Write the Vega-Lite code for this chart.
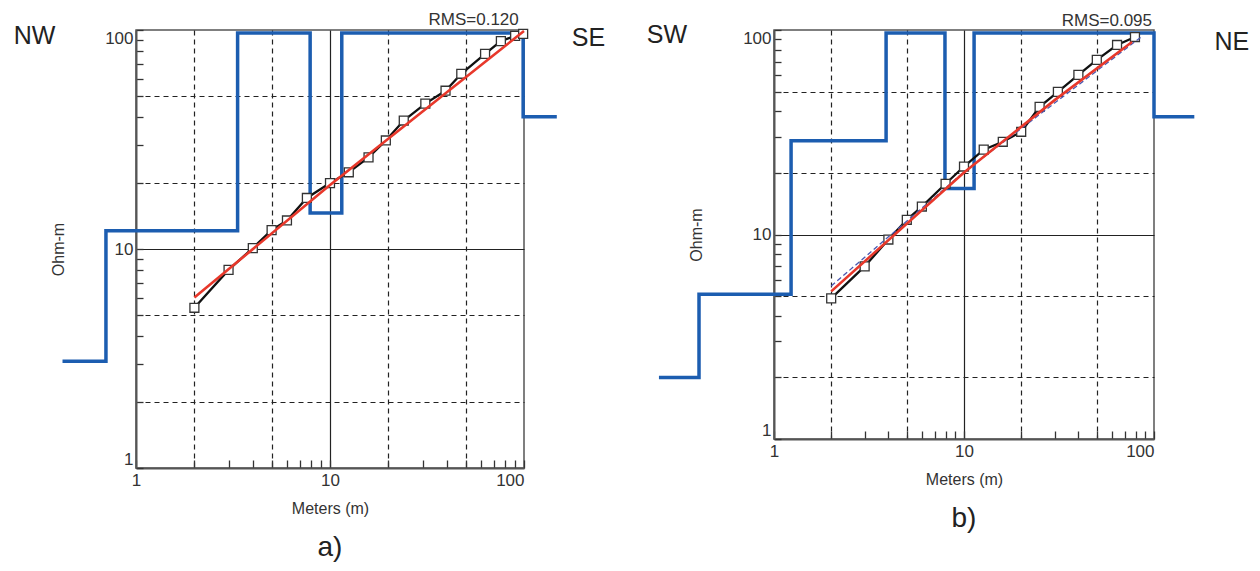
{
  "$schema": "https://vega.github.io/schema/vega-lite/v6.json",
  "background": "white",
  "autosize": {"type": "pad"},
  "padding": {"left": 12, "top": 10, "right": 5, "bottom": 5},
  "config": {
    "font": "Liberation Sans",
    "view": {"stroke": "#555", "strokeWidth": 1.5},
    "axis": {
      "domainColor": "#555",
      "domainWidth": 2,
      "tickColor": "#333",
      "tickWidth": 1.3,
      "grid": true,
      "gridColor": "#222",
      "gridWidth": 1.2,
      "labelFontSize": 17,
      "labelColor": "#333",
      "labelOverlap": false,
      "titleFontSize": 16,
      "titleFontWeight": "normal",
      "titleColor": "#333"
    }
  },
  "datasets": {
    "modelA": [
      {"x": 0.418, "y": 3.07}, {"x": 0.70, "y": 12.1}, {"x": 3.34, "y": 97}, {"x": 7.9, "y": 14.6},
      {"x": 11.5, "y": 97}, {"x": 99, "y": 40.2}, {"x": 147.6, "y": 40.2}
    ],
    "obsA": [
      {"x": 2, "y": 5.39}, {"x": 3, "y": 8.03}, {"x": 4, "y": 10.1}, {"x": 5, "y": 12.2}, {"x": 6, "y": 13.5},
      {"x": 7.6, "y": 17.1}, {"x": 10, "y": 20}, {"x": 12.5, "y": 22.4}, {"x": 15.8, "y": 26.2}, {"x": 19.4, "y": 31.3},
      {"x": 24, "y": 38.6}, {"x": 31, "y": 46.1}, {"x": 39.4, "y": 52.8}, {"x": 47.5, "y": 63.1}, {"x": 63, "y": 77.8},
      {"x": 76, "y": 89}, {"x": 90, "y": 94}, {"x": 99, "y": 96}
    ],
    "fitA": [
      {"x": 2, "y": 6.0}, {"x": 10, "y": 19.6}, {"x": 100, "y": 99}
    ],
    "dirA": [
      {"x": 0.30, "y": 94, "label": "NW"}, {"x": 215, "y": 92, "label": "SE"}
    ],
    "rmsA": [
      {"x": 94, "y": 111, "label": "RMS=0.120"}
    ],
    "modelB": [
      {"x": 0.248, "y": 2.0}, {"x": 0.403, "y": 5.1}, {"x": 1.23, "y": 28.7}, {"x": 3.89, "y": 96.7},
      {"x": 7.94, "y": 16.8}, {"x": 11.3, "y": 96.7}, {"x": 100, "y": 37.6}, {"x": 163, "y": 37.6}
    ],
    "obsB": [
      {"x": 2, "y": 4.87}, {"x": 3, "y": 6.98}, {"x": 4, "y": 9.45}, {"x": 5, "y": 11.8}, {"x": 6, "y": 13.7},
      {"x": 8, "y": 17.7}, {"x": 10, "y": 21.5}, {"x": 12.7, "y": 26.0}, {"x": 16, "y": 28.4}, {"x": 20, "y": 31.8},
      {"x": 25, "y": 42.1}, {"x": 31.2, "y": 49.8}, {"x": 40, "y": 60.3}, {"x": 50, "y": 71.4}, {"x": 63.9, "y": 84.5},
      {"x": 79.4, "y": 92.4}
    ],
    "fitB": [
      {"x": 2, "y": 5.27}, {"x": 10, "y": 20.1}, {"x": 30, "y": 45.4}, {"x": 76.6, "y": 87.4}
    ],
    "altB": [
      {"x": 2, "y": 5.6}, {"x": 10, "y": 20.2}, {"x": 32, "y": 46}, {"x": 85, "y": 92}
    ],
    "dirB": [
      {"x": 0.273, "y": 94.6, "label": "SW"}, {"x": 257, "y": 87.4, "label": "NE"}
    ],
    "rmsB": [
      {"x": 97.6, "y": 110.7, "label": "RMS=0.095"}
    ]
  },
  "spacing": 250,
  "bounds": "flush",
  "hconcat": [
    {
      "width": 388,
      "height": 438,
      "title": {"text": "a)", "orient": "bottom", "fontSize": 28, "fontWeight": "normal", "color": "#222", "anchor": "middle", "frame": "group", "offset": 18},
      "layer": [
        {
          "data": {"name": "modelA"},
          "mark": {"type": "line", "interpolate": "step-after", "color": "#1c5db0", "strokeWidth": 3.5},
          "encoding": {
            "x": {"field": "x", "type": "quantitative",
              "scale": {"type": "log", "domain": [1, 100], "nice": false},
              "axis": {
                "values": [1,2,3,4,5,6,7,8,9,10,20,30,40,50,60,70,80,90,100],
                "labelExpr": "datum.value == 1 || datum.value == 10 || datum.value == 100 ? datum.label : ''",
                "labelAlign": {"condition": {"test": "datum.value == 100", "value": "right"}, "value": "center"},
                "tickSize": -8,
                "labelPadding": 12,
                "gridDash": {"condition": {"test": "datum.value == 10", "value": []}, "value": [5, 4]},
                "gridOpacity": {"condition": {"test": "datum.value == 2 || datum.value == 5 || datum.value == 10 || datum.value == 20 || datum.value == 50", "value": 1}, "value": 0},
                "title": "Meters (m)",
                "titlePadding": 12
              }
            },
            "y": {"field": "y", "type": "quantitative",
              "scale": {"type": "log", "domain": [1, 100], "nice": false},
              "axis": {
                "values": [1,2,3,4,5,6,7,8,9,10,20,30,40,50,60,70,80,90,100],
                "labelExpr": "datum.value == 1 || datum.value == 10 || datum.value == 100 ? datum.label : ''",
                "labelFlush": true,
                "tickSize": -7,
                "labelPadding": 10,
                "gridDash": {"condition": {"test": "datum.value == 10", "value": []}, "value": [5, 4]},
                "gridOpacity": {"condition": {"test": "datum.value == 2 || datum.value == 5 || datum.value == 10 || datum.value == 20 || datum.value == 50", "value": 1}, "value": 0},
                "title": "Ohm-m",
                "titlePadding": 38
              }
            }
          }
        },
        {
          "data": {"name": "obsA"},
          "mark": {"type": "line", "color": "#111", "strokeWidth": 2.3},
          "encoding": {"x": {"field": "x", "type": "quantitative"}, "y": {"field": "y", "type": "quantitative"}}
        },
        {
          "data": {"name": "obsA"},
          "mark": {"type": "point", "shape": "square", "filled": true, "fill": "white", "stroke": "#333", "strokeWidth": 1.3, "size": 80, "opacity": 1},
          "encoding": {"x": {"field": "x", "type": "quantitative"}, "y": {"field": "y", "type": "quantitative"}}
        },
        {
          "data": {"name": "fitA"},
          "mark": {"type": "line", "color": "#e8382b", "strokeWidth": 2.6},
          "encoding": {"x": {"field": "x", "type": "quantitative"}, "y": {"field": "y", "type": "quantitative"}}
        },
        {
          "data": {"name": "dirA"},
          "mark": {"type": "text", "fontSize": 25, "color": "#222", "align": "center", "baseline": "middle"},
          "encoding": {"x": {"field": "x", "type": "quantitative"}, "y": {"field": "y", "type": "quantitative"}, "text": {"field": "label"}}
        },
        {
          "data": {"name": "rmsA"},
          "mark": {"type": "text", "fontSize": 17, "color": "#333", "align": "right", "baseline": "middle"},
          "encoding": {"x": {"field": "x", "type": "quantitative"}, "y": {"field": "y", "type": "quantitative"}, "text": {"field": "label"}}
        }
      ]
    },
    {
      "width": 380,
      "height": 409,
      "title": {"text": "b)", "orient": "bottom", "fontSize": 28, "fontWeight": "normal", "color": "#222", "anchor": "middle", "frame": "group", "offset": 18},
      "layer": [
        {
          "data": {"name": "modelB"},
          "mark": {"type": "line", "interpolate": "step-after", "color": "#1c5db0", "strokeWidth": 3.5},
          "encoding": {
            "x": {"field": "x", "type": "quantitative",
              "scale": {"type": "log", "domain": [1, 100], "nice": false},
              "axis": {
                "values": [1,2,3,4,5,6,7,8,9,10,20,30,40,50,60,70,80,90,100],
                "labelExpr": "datum.value == 1 || datum.value == 10 || datum.value == 100 ? datum.label : ''",
                "labelAlign": {"condition": {"test": "datum.value == 100", "value": "right"}, "value": "center"},
                "tickSize": -8,
                "labelPadding": 12,
                "gridDash": {"condition": {"test": "datum.value == 10", "value": []}, "value": [5, 4]},
                "gridOpacity": {"condition": {"test": "datum.value == 2 || datum.value == 5 || datum.value == 10 || datum.value == 20 || datum.value == 50", "value": 1}, "value": 0},
                "title": "Meters (m)",
                "titlePadding": 12
              }
            },
            "y": {"field": "y", "type": "quantitative",
              "scale": {"type": "log", "domain": [1, 100], "nice": false},
              "axis": {
                "values": [1,2,3,4,5,6,7,8,9,10,20,30,40,50,60,70,80,90,100],
                "labelExpr": "datum.value == 1 || datum.value == 10 || datum.value == 100 ? datum.label : ''",
                "labelFlush": true,
                "tickSize": -7,
                "labelPadding": 10,
                "gridDash": {"condition": {"test": "datum.value == 10", "value": []}, "value": [5, 4]},
                "gridOpacity": {"condition": {"test": "datum.value == 2 || datum.value == 5 || datum.value == 10 || datum.value == 20 || datum.value == 50", "value": 1}, "value": 0},
                "title": "Ohm-m",
                "titlePadding": 38
              }
            }
          }
        },
        {
          "data": {"name": "obsB"},
          "mark": {"type": "line", "color": "#111", "strokeWidth": 2.3},
          "encoding": {"x": {"field": "x", "type": "quantitative"}, "y": {"field": "y", "type": "quantitative"}}
        },
        {
          "data": {"name": "obsB"},
          "mark": {"type": "point", "shape": "square", "filled": true, "fill": "white", "stroke": "#333", "strokeWidth": 1.3, "size": 80, "opacity": 1},
          "encoding": {"x": {"field": "x", "type": "quantitative"}, "y": {"field": "y", "type": "quantitative"}}
        },
        {
          "data": {"name": "altB"},
          "mark": {"type": "line", "color": "#4a58b0", "strokeWidth": 1.3, "strokeDash": [5, 3]},
          "encoding": {"x": {"field": "x", "type": "quantitative"}, "y": {"field": "y", "type": "quantitative"}}
        },
        {
          "data": {"name": "fitB"},
          "mark": {"type": "line", "color": "#e8382b", "strokeWidth": 2.6},
          "encoding": {"x": {"field": "x", "type": "quantitative"}, "y": {"field": "y", "type": "quantitative"}}
        },
        {
          "data": {"name": "dirB"},
          "mark": {"type": "text", "fontSize": 25, "color": "#222", "align": "center", "baseline": "middle"},
          "encoding": {"x": {"field": "x", "type": "quantitative"}, "y": {"field": "y", "type": "quantitative"}, "text": {"field": "label"}}
        },
        {
          "data": {"name": "rmsB"},
          "mark": {"type": "text", "fontSize": 17, "color": "#333", "align": "right", "baseline": "middle"},
          "encoding": {"x": {"field": "x", "type": "quantitative"}, "y": {"field": "y", "type": "quantitative"}, "text": {"field": "label"}}
        }
      ]
    }
  ]
}
